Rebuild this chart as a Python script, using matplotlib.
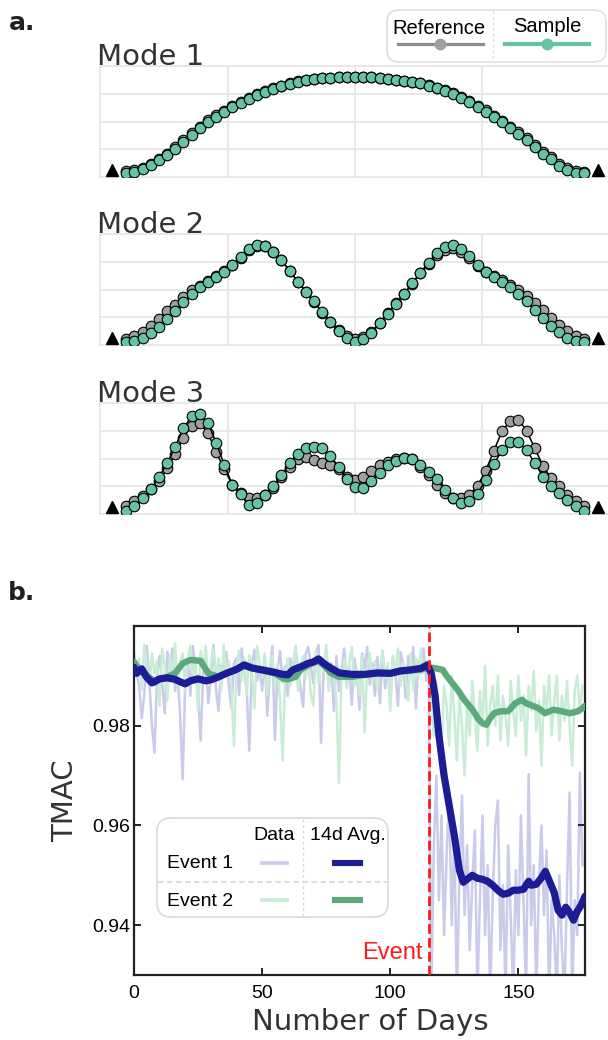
import numpy as np
import matplotlib
matplotlib.use("Agg")
import matplotlib.pyplot as plt
from matplotlib.patches import FancyBboxPatch

plt.rcParams.update({"font.family": "DejaVu Sans"})
TICK_FONT = "Liberation Sans"

# ---------------- panel a: mode shapes (57 sensors, two supports) ----------------
SENSOR = np.arange(1, 58)
SUPPORTS = [-0.7, 58.7]
SUPPORT_LEVEL = [0.035, 0.035]

MODE1_REF = [.025, .035, .062, .102, .152, .207, .272, .347, .415, .485,
             .550, .603, .652, .700, .744, .783, .819, .854, .885, .909,
             .935, .954, .968, .980, .988, .994, .998, 1.0, 1.0, .999,
             .996, .991, .983, .973, .961, .948, .939, .915, .889, .862,
             .832, .790, .749, .698, .653, .596, .545, .484, .426, .364,
             .296, .221, .168, .100, .054, .026, .018]
MODE1_SAMPLE = [.010, .018, .045, .085, .135, .190, .255, .330, .400, .470,
                .535, .590, .640, .690, .735, .775, .812, .848, .880, .905,
                .932, .952, .967, .979, .988, .994, .998, 1.0, 1.0, .999,
                .996, .990, .982, .971, .958, .945, .935, .910, .883, .855,
                .824, .780, .738, .686, .640, .582, .530, .468, .410, .347,
                .278, .202, .150, .081, .036, .010, .004]
MODE2_REF = [.03, .057, .098, .16, .238, .313, .382, .462, .537, .58,
             .63, .675, .726, .792, .87, .95, .99, .985, .925, .84,
             .73, .62, .515, .413, .30, .205, .12, .06, .03, .05,
             .1, .195, .295, .395, .495, .6, .705, .8, .9, .952,
             .967, .932, .865, .785, .725, .675, .64, .59, .53, .469,
             .394, .322, .247, .168, .108, .057, .03]
MODE2_SAMPLE = [0.0, .005, .04, .084, .149, .235, .32, .405, .49, .563,
                .621, .672, .724, .792, .872, .954, .998, .991, .929, .844,
                .734, .621, .518, .416, .303, .2, .108, .039, 0.0, .022,
                .084, .187, .29, .393, .495, .604, .714, .817, .92, .981,
                .998, .957, .885, .792, .724, .666, .621, .563, .49, .416,
                .33, .245, .166, .098, .039, .005, 0.0]
MODE3_REF = [.05, .095, .146, .222, .301, .438, .585, .756, .873, .907,
             .804, .61, .428, .268, .181, .129, .129, .163, .232, .345,
             .455, .531, .552, .524, .497, .472, .427, .352, .318, .345,
             .414, .472, .506, .531, .541, .53, .455, .369, .266, .18,
             .129, .129, .163, .256, .414, .62, .826, .928, .942, .826,
             .644, .462, .335, .256, .163, .094, .05]
MODE3_SAMPLE = [0.0, .048, .127, .22, .344, .488, .66, .85, .977, 1.0,
                .91, .704, .474, .268, .175, .06, .077, .163, .256, .369,
                .488, .584, .643, .66, .643, .564, .455, .325, .242, .232,
                .301, .393, .472, .517, .541, .53, .472, .404, .325, .215,
                .129, .077, .094, .17, .321, .486, .623, .709, .709, .623,
                .493, .349, .253, .177, .108, .05, 0.0]
MODES = [("Mode 1", MODE1_REF, MODE1_SAMPLE),
         ("Mode 2", MODE2_REF, MODE2_SAMPLE),
         ("Mode 3", MODE3_REF, MODE3_SAMPLE)]

# ---------------- panel b: TMAC over days ----------------
DAYS = np.arange(176)
EVENT_DAY = 115
EVENT1_DATA = [
    .9935, .9905, .9880, .9815, .9862, .9960, .9890, .9800, .9746, .9902,
    .9940, .9885, .9825, .9948, .9910, .9955, .9870, .9905, .9820, .9693,
    .9888, .9935, .9860, .9960, .9912, .9870, .9770, .9905, .9930, .9845,
    .9900, .9962, .9872, .9830, .9920, .9915, .9948, .9880, .9835, .9925,
    .9935, .9862, .9955, .9910, .9870, .9750, .9925, .9952, .9890, .9918,
    .9870, .9940, .9820, .9905, .9960, .9772, .9910, .9950, .9888, .9920,
    .9860, .9935, .9900, .9960, .9915, .9875, .9838, .9945, .9958, .9920,
    .9885, .9945, .9962, .9766, .9915, .9950, .9880, .9925, .9830, .9940,
    .9870, .9912, .9955, .9885, .9920, .9842, .9935, .9900, .9832, .9945,
    .9915, .9958, .9882, .9925, .9860, .9938, .9845, .9950, .9875, .9920,
    .9842, .9935, .9905, .9840, .9948, .9925, .9855, .9940, .9912, .9958,
    .9835, .9930, .9905, .9955, .9890,
    .9920, .9260, .9560, .9700, .9450,
    .9620, .9380, .9540, .9660, .9400, .9580, .9260, .9500, .9660, .9420,
    .9560, .9350, .9480, .9590, .9260, .9450, .9620, .9380, .9520, .9260,
    .9460, .9600, .9650, .9350, .9480, .9260, .9560, .9420, .9260, .9510,
    .9380, .9620, .9450, .9260, .9703, .9400, .9520, .9260, .9480, .9600,
    .9420, .9550, .9260, .9450, .9380, .9260, .9500, .9350, .9260, .9480,
    .9666, .9260, .9450, .9380, .9706, .9520]
EVENT2_DATA = [
    .9950, .9900, .9935, .9872, .9962, .9915, .9880, .9945, .9905, .9930,
    .9840, .9955, .9920, .9850, .9940, .9905, .9965, .9880, .9925, .9945,
    .9870, .9935, .9960, .9900, .9928, .9830, .9950, .9915, .9960, .9880,
    .9925, .9955, .9895, .9935, .9870, .9962, .9910, .9930, .9878, .9760,
    .9920, .9950, .9890, .9935, .9860, .9942, .9905, .9835, .9960, .9925,
    .9895, .9945, .9860, .9918, .9940, .9880, .9925, .9850, .9730, .9900,
    .9935, .9880, .9920, .9960, .9870, .9915, .9940, .9895, .9930, .9862,
    .9840, .9950, .9885, .9935, .9910, .9962, .9870, .9920, .9898, .9850,
    .9686, .9900, .9935, .9875, .9925, .9958, .9880, .9915, .9860, .9940,
    .9787, .9920, .9945, .9885, .9930, .9870, .9915, .9948, .9895, .9925,
    .9830, .9940, .9905, .9955, .9880, .9925, .9895, .9850, .9945, .9870,
    .9935, .9900, .9955, .9905, .9930,
    .9910, .9870, .9780, .9890, .9820,
    .9750, .9880, .9840, .9760, .9900, .9820, .9730, .9860, .9800, .9700,
    .9850, .9780, .9890, .9820, .9750, .9870, .9800, .9920, .9760, .9840,
    .9880, .9800, .9900, .9770, .9860, .9820, .9760, .9890, .9830, .9780,
    .9900, .9810, .9860, .9740, .9880, .9830, .9910, .9790, .9850, .9720,
    .9880, .9830, .9900, .9780, .9850, .9900, .9770, .9860, .9810, .9890,
    .9800, .9720, .9870, .9900, .9830, .9880]

AVG1_DAYS = [0, 1, 2, 3, 5, 7, 8, 10, 13, 16, 18, 20, 22, 25, 28, 30, 33, 36,
             40, 43, 46, 50, 55, 58, 60, 62, 65, 68, 70, 72, 74, 77, 80, 85,
             90, 95, 100, 104, 108, 112, 114.5, 116, 117.5, 119, 121, 123,
             125, 127, 128.5, 130, 132, 134, 136, 138, 140, 142, 144, 146,
             148, 150, 152, 154, 155, 157, 159, 160.5, 162, 164, 165.5, 167,
             168.5, 170, 171.5, 173, 174.5, 176]
EVENT1_AVG = [.9917, .9905, .9910, .9914, .9897, .9886, .9888, .9894, .9896,
              .9893, .9888, .9884, .9890, .9894, .9890, .9892, .9898, .9905,
              .9913, .9922, .9916, .9912, .9907, .9903, .9902, .9912, .9918,
              .9925, .9928, .9934, .9925, .9915, .9906, .9903, .9903, .9906,
              .9905, .9910, .9912, .9915, .9922, .9905, .9860, .9780, .9700,
              .9640, .9580, .9510, .9486, .9492, .9500, .9494, .9492, .9488,
              .9480, .9470, .9462, .9464, .9470, .9470, .9472, .9488, .9480,
              .9482, .9495, .9508, .9490, .9465, .9430, .9420, .9436, .9425,
              .9410, .9428, .9440, .9458]
AVG2_DAYS = [0, 2, 5, 8, 12, 16, 19, 22, 26, 29, 33, 36, 40, 43, 46, 50, 55,
             58, 60, 63, 65, 68, 72, 74, 77, 80, 85, 90, 95, 100, 104, 108,
             112, 115, 117, 120.5, 122, 123.7, 126.3, 128.9, 132.1, 134.6, 136,
             137.5, 139, 140.5, 143, 146, 148.8, 151.4, 153, 154.6, 157.9,
             160.4, 163.7, 166.9, 170.1, 173.3, 175, 176]
EVENT2_AVG = [.9928, .9912, .9900, .9890, .9896, .9905, .9925, .9932, .9930,
              .9905, .9898, .9905, .9913, .9920, .9915, .9911, .9905, .9895,
              .9893, .9898, .9912, .9922, .9930, .9922, .9905, .9898, .9898,
              .9902, .9905, .9905, .9909, .9911, .9913, .9916, .9916, .9912,
              .9900, .9889, .9872, .9852, .9832, .9812, .9805, .9802, .9815,
              .9825, .9829, .9829, .9845, .9852, .9845, .9842, .9835, .9825,
              .9832, .9829, .9825, .9829, .9835, .9840]

GRAY = "#a0a0a0"
TEAL = "#66c2a5"
LAVENDER = "#cacaea"
MINT = "#c8ecd6"
NAVY = "#1c1c96"
GREEN = "#5aaa7b"
RED = "#ff1a1a"

W, H = 608, 1040
fig = plt.figure(figsize=(W / 100, H / 100), dpi=100)


def px_axes(left, top, right, bottom):
    return fig.add_axes([left / W, 1 - bottom / H, (right - left) / W, (bottom - top) / H])


# mode panels
tops = [66, 234, 403]
for (name, ref, smp), top in zip(MODES, tops):
    ax = px_axes(100, top, 610, top + 111)
    ax.set_xlim(-2.2, 60.2)
    ax.set_ylim(-0.036, 1.114)
    ax.set_xticks(np.linspace(-2.2, 60.2, 5)[1:-1])
    ax.set_yticks(np.linspace(-0.036, 1.114, 5)[1:-1])
    ax.grid(True, color="#e6e6e6", lw=1.3)
    ax.set_axisbelow(True)
    ax.tick_params(length=0, labelbottom=False, labelleft=False)
    for sp in ax.spines.values():
        sp.set_color("#e6e6e6")
        sp.set_linewidth(1.3)
    ax.plot(SENSOR, ref, color="black", lw=1.1, zorder=2)
    ax.plot(SENSOR, ref, "o", ms=7.6, mfc=GRAY, mec="black", mew=0.8, zorder=3)
    ax.plot(SENSOR, smp, color="black", lw=1.1, zorder=4)
    ax.plot(SENSOR, smp, "o", ms=7.6, mfc=TEAL, mec="black", mew=0.8, zorder=5)
    ax.plot(SUPPORTS, SUPPORT_LEVEL, "^", color="black", ms=9, clip_on=False, zorder=6)
    ax.text(-0.006, 1.0 + 1 / 111, name, transform=ax.transAxes, fontsize=21,
            color="#333333", ha="left", va="baseline")

# TMAC panel
axb = px_axes(134, 626, 585, 975)
axb.plot(DAYS, EVENT1_DATA, color=LAVENDER, lw=1.8, zorder=1)
axb.plot(DAYS, EVENT2_DATA, color=MINT, lw=1.8, zorder=1.5)
axb.plot(AVG2_DAYS, EVENT2_AVG, color=GREEN, lw=4.6, solid_capstyle="round",
         solid_joinstyle="round", zorder=3)
axb.plot(AVG1_DAYS, EVENT1_AVG, color=NAVY, lw=5.2, solid_capstyle="round",
         solid_joinstyle="round", zorder=4)
axb.axvline(EVENT_DAY, color=RED, lw=2, ls=(0, (3.5, 1.5)), zorder=5)
axb.text(EVENT_DAY - 2.5, 0.9332, "Event", color=RED, fontsize=17,
         family=TICK_FONT, ha="right", va="baseline")
axb.set_xlim(0, 176)
axb.set_ylim(0.93, 1.0)
axb.set_xticks([0, 50, 100, 150])
axb.set_yticks([0.94, 0.96, 0.98])
axb.set_yticklabels(["0.94", "0.96", "0.98"])
axb.tick_params(direction="in", length=5, width=1.4, top=True, right=True,
                labelsize=14, color="#222222")
axb.tick_params(axis="x", pad=7)
axb.tick_params(axis="y", pad=3)
for lab in axb.get_xticklabels() + axb.get_yticklabels():
    lab.set_family(TICK_FONT)
for sp in axb.spines.values():
    sp.set_color("#222222")
    sp.set_linewidth(1.6)
axb.text(-0.153, 0.5, "TMAC", transform=axb.transAxes, rotation=90,
         fontsize=21, color="#333333", ha="center", va="center")
axb.text(0.524, -0.135, "Number of Days", transform=axb.transAxes,
         fontsize=21, color="#333333", ha="center", va="center")

# overlay in pixel units for panel letters and the two legends
ov = fig.add_axes([0, 0, 1, 1], zorder=10)
ov.set_xlim(0, W)
ov.set_ylim(H, 0)
ov.axis("off")
ov.patch.set_alpha(0)
ov.text(9, 30, "a.", fontsize=18, fontweight="bold", color="#222222", va="baseline")
ov.text(8, 600, "b.", fontsize=18, fontweight="bold", color="#222222", va="baseline")

# legend a
ov.add_patch(FancyBboxPatch((387, 10), 219, 52, boxstyle="round,pad=0,rounding_size=12",
                            fc="white", ec="#e0e0e0", lw=1.2))
ov.plot([493, 493], [11, 61], color="#dddddd", lw=1, ls=(0, (2, 2)))
ov.text(439, 29, "Reference", fontsize=14.5, family=TICK_FONT, ha="center", va="center")
ov.text(547, 27, "Sample", fontsize=14.5, family=TICK_FONT, ha="center", va="center")
ov.plot([398, 483], [44, 44], color="#8c8c8c", lw=2.3)
ov.plot([440], [44], "o", color=GRAY, ms=7.5)
ov.plot([505, 589], [44, 44], color=TEAL, lw=3.0)
ov.plot([547], [44], "o", color=TEAL, ms=7.5)

# legend b
ov.add_patch(FancyBboxPatch((157, 818), 231, 99, boxstyle="round,pad=0,rounding_size=14",
                            fc="white", ec="#dcdcdc", lw=1.3))
ov.plot([303, 303], [819, 916], color="#d8d8d8", lw=1, ls=(0, (2, 2)))
ov.plot([158, 387], [882, 882], color="#d8d8d8", lw=1.3, ls=(0, (3, 2)))
ov.text(274, 836, "Data", fontsize=14, family=TICK_FONT, ha="center", va="center")
ov.text(348, 836, "14d Avg.", fontsize=14, family=TICK_FONT, ha="center", va="center")
ov.text(167, 864, "Event 1", fontsize=14, family=TICK_FONT, ha="left", va="center")
ov.text(167, 901, "Event 2", fontsize=14, family=TICK_FONT, ha="left", va="center")
ov.plot([262, 287], [863, 863], color=LAVENDER, lw=2.6)
ov.plot([335, 360], [863, 863], color=NAVY, lw=4.4)
ov.plot([262, 287], [900, 900], color=MINT, lw=2.6)
ov.plot([335, 360], [900, 900], color=GREEN, lw=4.4)

fig.savefig("out.png", dpi=100)
